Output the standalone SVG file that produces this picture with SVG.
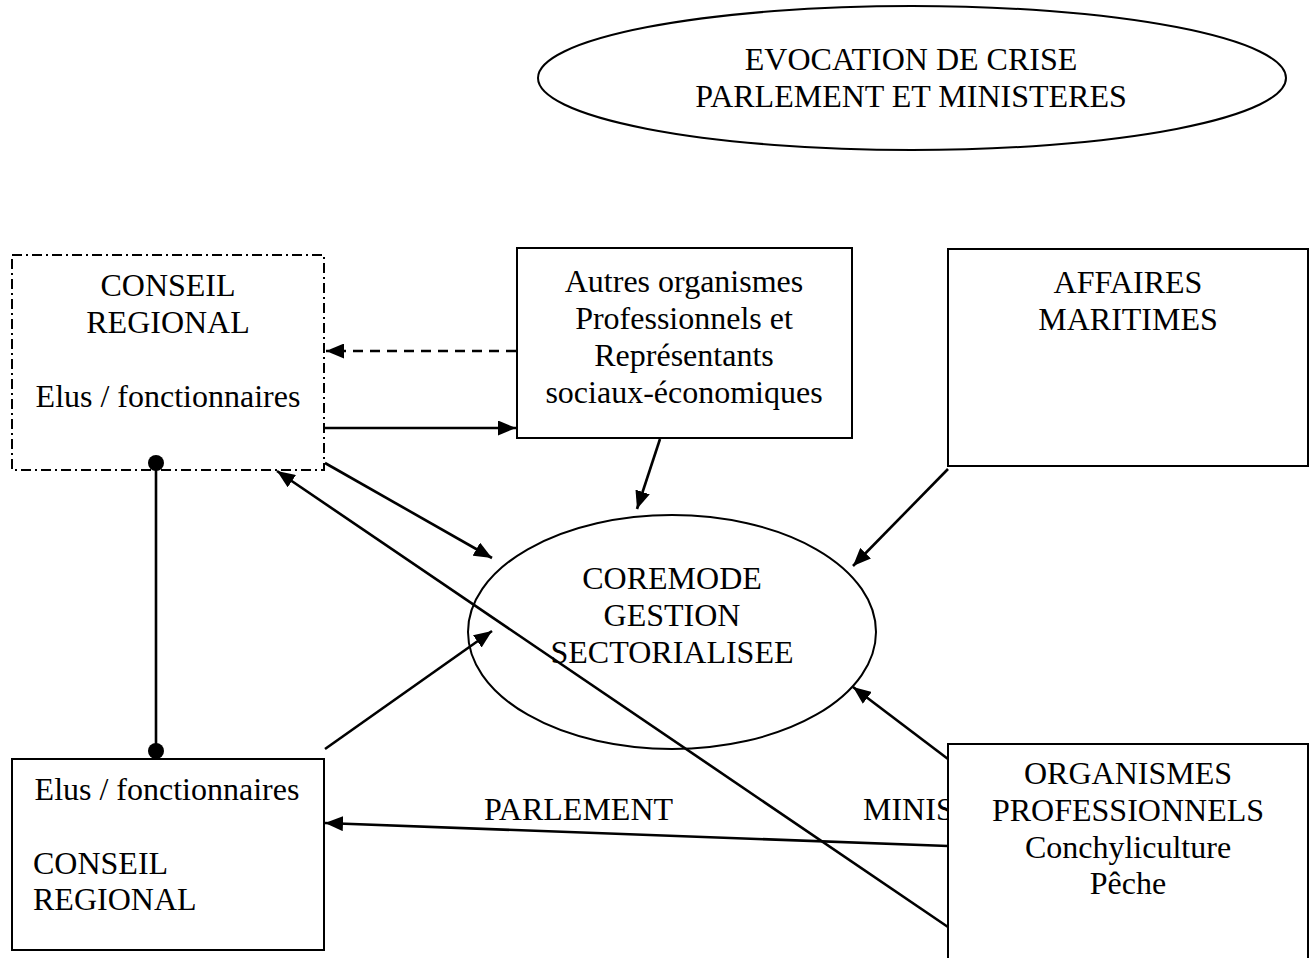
<svg xmlns="http://www.w3.org/2000/svg" width="1311" height="958" viewBox="0 0 1311 958">
<style>
text{font-family:"Liberation Serif","Times New Roman",serif;font-size:32px;fill:#000}
.c{text-anchor:middle}
.box{fill:#fff;stroke:#000;stroke-width:2}
.ell{fill:none;stroke:#000;stroke-width:2}
.ln{fill:none;stroke:#000;stroke-width:2.6}
</style>
<defs>
<marker id="ah" markerUnits="userSpaceOnUse" markerWidth="19" markerHeight="15" refX="18" refY="7.5" orient="auto">
<path d="M0,0 L18,7.5 L0,15 z" fill="#000"/>
</marker>
<marker id="dot" markerUnits="userSpaceOnUse" markerWidth="18" markerHeight="18" refX="9" refY="9">
<circle cx="9" cy="9" r="8" fill="#000"/>
</marker>
</defs>
<rect width="1311" height="958" fill="#fff"/>

<g id="evocation">
<ellipse class="ell" cx="912" cy="78" rx="374" ry="72"/>
<text class="c" x="911" y="70">EVOCATION DE CRISE</text>
<text class="c" x="911" y="107">PARLEMENT ET MINISTERES</text>
</g>

<g id="conseil-regional-top">
<rect x="12" y="255" width="312" height="215" fill="#fff" stroke="#000" stroke-width="2" stroke-dasharray="10 4 2 4"/>
<text class="c" x="168" y="296">CONSEIL</text>
<text class="c" x="168" y="333">REGIONAL</text>
<text class="c" x="168" y="407">Elus / fonctionnaires</text>
</g>

<g id="autres-organismes">
<rect class="box" x="517" y="248" width="335" height="190"/>
<text class="c" x="684" y="292">Autres organismes</text>
<text class="c" x="684" y="329">Professionnels et</text>
<text class="c" x="684" y="366">Représentants</text>
<text class="c" x="684" y="403">sociaux-économiques</text>
</g>

<g id="affaires-maritimes">
<rect class="box" x="948" y="249" width="360" height="217"/>
<text class="c" x="1128" y="293">AFFAIRES</text>
<text class="c" x="1128" y="330">MARITIMES</text>
</g>

<g id="coremode">
<ellipse class="ell" cx="672" cy="632" rx="204" ry="117"/>
<text class="c" x="672" y="589">COREMODE</text>
<text class="c" x="672" y="626">GESTION</text>
<text class="c" x="672" y="663">SECTORIALISEE</text>
</g>

<g id="conseil-regional-bottom">
<rect class="box" x="12" y="759" width="312" height="191"/>
<text class="c" x="167" y="800">Elus / fonctionnaires</text>
<text x="33" y="874">CONSEIL</text>
<text x="33" y="910">REGIONAL</text>
</g>

<g id="connectors">
<line class="ln" x1="516" y1="351" x2="326" y2="351" stroke-dasharray="10 7" marker-end="url(#ah)"/>
<line class="ln" x1="325" y1="428" x2="516" y2="428" marker-end="url(#ah)"/>
<line class="ln" x1="660" y1="439" x2="637" y2="509" marker-end="url(#ah)"/>
<line class="ln" x1="948" y1="469" x2="853" y2="566" marker-end="url(#ah)"/>
<line class="ln" x1="325" y1="463" x2="492" y2="558" marker-end="url(#ah)"/>
<line class="ln" x1="948" y1="927" x2="277" y2="471" marker-end="url(#ah)"/>
<line class="ln" x1="325" y1="749" x2="492" y2="631" marker-end="url(#ah)"/>
<line class="ln" x1="948" y1="759" x2="853" y2="687" marker-end="url(#ah)"/>
<line class="ln" x1="948" y1="846" x2="325" y2="823" marker-end="url(#ah)"/>
<line class="ln" x1="156" y1="463" x2="156" y2="751" marker-start="url(#dot)" marker-end="url(#dot)"/>
<text x="484" y="820">PARLEMENT</text>
<text x="863" y="820">MINIS</text>
</g>

<g id="organismes-professionnels">
<rect class="box" x="948" y="744" width="360" height="230"/>
<text class="c" x="1128" y="784">ORGANISMES</text>
<text class="c" x="1128" y="821">PROFESSIONNELS</text>
<text class="c" x="1128" y="858">Conchyliculture</text>
<text class="c" x="1128" y="894">Pêche</text>
</g>
</svg>
